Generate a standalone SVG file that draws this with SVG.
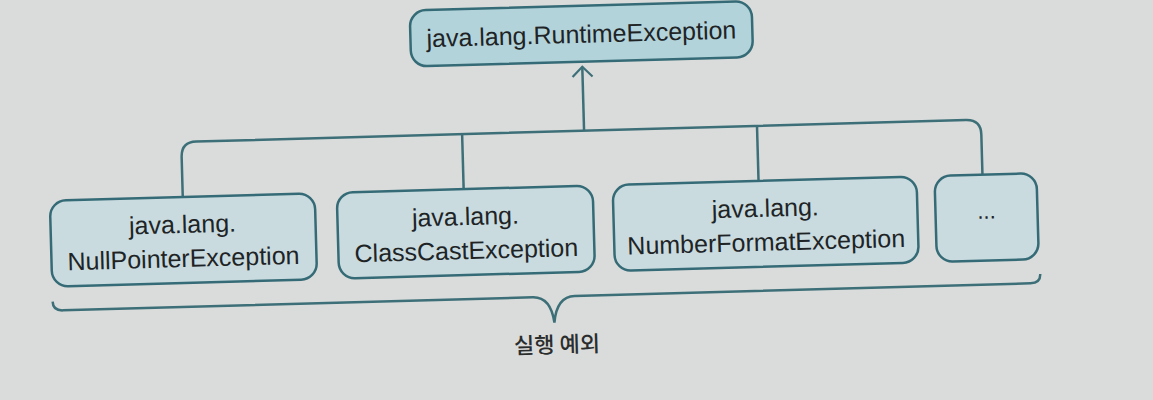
<svg xmlns="http://www.w3.org/2000/svg" width="1153" height="400" viewBox="0 0 1153 400">
  <style>
    .node rect { fill: #c9dbdf; stroke: #356b76; stroke-width: 2.5; }
    .top rect { fill: #b3d3da; }
    .label { font-family: "Liberation Sans", Arial, sans-serif; font-size: 25px; fill: #1e2426; text-anchor: middle; }
    .conn { fill: none; stroke: #3d6f78; stroke-width: 2.5; }
    .brace { fill: none; stroke: #3d6f78; stroke-width: 2.5; }
    .caption { font-family: "Noto Sans CJK KR", "Noto Sans", sans-serif; font-size: 22px; font-weight: 500; fill: #2a2d2e; text-anchor: middle; }
  </style>
  <defs>
    <marker id="arrow" viewBox="0 0 24 24" refX="13" refY="12" markerWidth="24" markerHeight="24" markerUnits="userSpaceOnUse" orient="auto">
      <path d="M3,2 L13,12 L3,22" fill="none" stroke="#3d6f78" stroke-width="2.2"/>
    </marker>
  </defs>
  <rect x="0" y="0" width="1153" height="400" fill="#dadcdb"/>
  <g transform="rotate(-1.6 576 200)">
    <g id="connectors">
      <path class="conn" d="M183,186 L183,146 Q183,131 198,131 L968,131 Q983,131 983,146 L983,186"/>
      <path class="conn" d="M464,131 L464,186"/>
      <path class="conn" d="M759,131 L759,186"/>
      <path class="conn" d="M586,131 L586,67" marker-end="url(#arrow)"/>
    </g>
    <g id="runtime" class="node top">
      <rect x="415" y="6" width="342" height="56" rx="16"/>
      <text class="label" x="586" y="43">java.lang.RuntimeException</text>
    </g>
    <g id="nullpointer" class="node">
      <rect x="50" y="186" width="265" height="86" rx="16"/>
      <text class="label" x="182" y="222">java.lang.</text>
      <text class="label" x="182" y="256">NullPointerException</text>
    </g>
    <g id="classcast" class="node">
      <rect x="337" y="186" width="256" height="86" rx="16"/>
      <text class="label" x="465" y="222">java.lang.</text>
      <text class="label" x="465" y="256">ClassCastException</text>
    </g>
    <g id="numberformat" class="node">
      <rect x="613" y="186" width="304" height="86" rx="16"/>
      <text class="label" x="765" y="222">java.lang.</text>
      <text class="label" x="765" y="256">NumberFormatException</text>
    </g>
    <g id="more" class="node">
      <rect x="935" y="186" width="102" height="86" rx="16"/>
      <text class="label" x="986" y="230" style="font-size:22px">...</text>
    </g>
    <g id="brace">
      <path class="brace" d="M50,287 Q50,296 60,296 L530,296 Q548,296 551,322 Q554,296 572,296 L1028,296 Q1038,296 1038,287"/>
      <text class="caption" x="553" y="352">실행 예외</text>
    </g>
  </g>
</svg>
